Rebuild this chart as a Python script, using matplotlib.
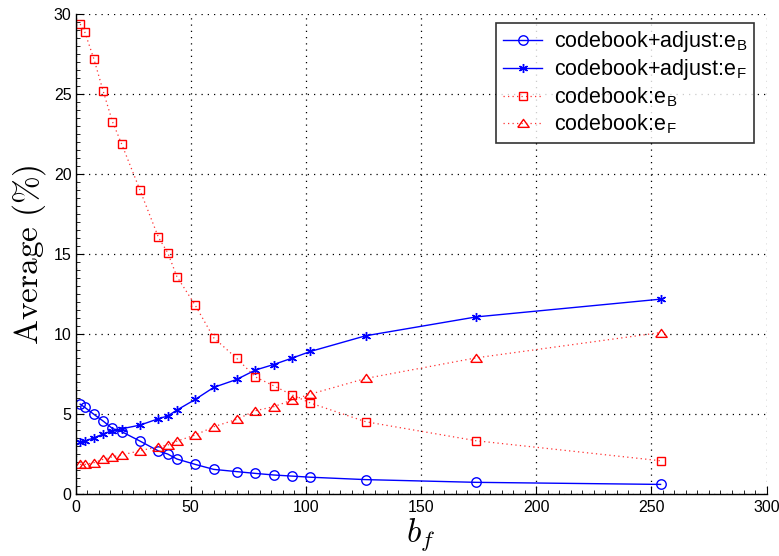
import matplotlib
matplotlib.use("Agg")
import matplotlib.pyplot as plt
from matplotlib.ticker import MultipleLocator

plt.rcParams['font.family'] = ['Liberation Sans', 'DejaVu Sans']
plt.rcParams['mathtext.fontset'] = 'cm'

bf = [2, 4, 8, 12, 16, 20, 28, 36, 40, 44, 52, 60, 70, 78, 86, 94, 102, 126, 174, 254]

adj_eB = [5.62, 5.42, 4.98, 4.56, 4.10, 3.90, 3.31, 2.69, 2.50, 2.19, 1.85, 1.54, 1.40,
          1.29, 1.19, 1.12, 1.05, 0.90, 0.73, 0.60]
adj_eF = [3.27, 3.30, 3.52, 3.75, 3.96, 4.08, 4.31, 4.71, 4.88, 5.25, 5.92, 6.67, 7.17,
          7.75, 8.10, 8.50, 8.92, 9.90, 11.08, 12.19]
cb_eB = [29.4, 28.9, 27.2, 25.2, 23.3, 21.9, 19.0, 16.05, 15.1, 13.6, 11.8, 9.77, 8.48,
         7.33, 6.77, 6.20, 5.69, 4.52, 3.33, 2.08]
cb_eF = [1.85, 1.85, 1.96, 2.17, 2.33, 2.44, 2.71, 2.96, 3.06, 3.31, 3.69, 4.21, 4.67,
         5.21, 5.46, 5.88, 6.25, 7.23, 8.52, 10.1]

labels = [r'codebook+adjust:e$_\mathregular{B}$', r'codebook+adjust:e$_\mathregular{F}$',
          r'codebook:e$_\mathregular{B}$', r'codebook:e$_\mathregular{F}$']

tri = [(-1, -0.68), (1, -0.68), (0, 0.72), (-1, -0.68)]
dot = (0, (1, 2.6))

fig = plt.figure(figsize=(7.79, 5.56), dpi=100)
ax = fig.add_axes([0.097, 0.1115, 0.887, 0.8625])

ax.plot(bf, adj_eB, color='#0000ff', lw=1.0, marker='o', ms=6.8, mfc='none', mec='#0000ff', mew=1.0, label=labels[0])
ax.plot(bf, adj_eF, color='#0000ff', lw=1.0, marker=(6, 2, 0), ms=6.5, mec='#0000ff', mew=1.0, label=labels[1])
ax.plot(bf, cb_eB, color='#ff3030', lw=0.9, ls=dot, marker='s', ms=5.8, mfc='none', mec='#ff0000', mew=1.0, label=labels[2])
ax.plot(bf, cb_eF, color='#ff3030', lw=0.9, ls=dot, marker=tri, ms=8.2, mfc='none', mec='#ff0000', mew=1.0, label=labels[3])

ax.set_xlim(0, 300)
ax.set_ylim(0, 30)
ax.xaxis.set_major_locator(MultipleLocator(50))
ax.xaxis.set_minor_locator(MultipleLocator(5))
ax.yaxis.set_major_locator(MultipleLocator(5))
ax.yaxis.set_minor_locator(MultipleLocator(0.5))
ax.tick_params(which='both', direction='in', labelsize=11.5, colors='black')
ax.tick_params(which='major', length=6)
ax.tick_params(which='minor', length=3)
ax.tick_params(axis='x', pad=4)
ax.tick_params(axis='y', pad=3)

for s in ['top', 'right']:
    ax.spines[s].set_visible(False)
for s in ['left', 'bottom']:
    ax.spines[s].set_linewidth(1.0)

ax.grid(True, which='major', ls=(0, (1, 4)), color='black', lw=0.9)

ax.set_xlabel(r'$b_f$', fontsize=24, labelpad=1)
ax.set_ylabel(r'$\mathrm{Average\ (\%)}$', fontsize=24, labelpad=4)

leg = ax.legend(loc='upper right', bbox_to_anchor=(0.982, 0.983), fontsize=15.5, frameon=True, fancybox=False,
                edgecolor='black', handlelength=1.85, handletextpad=0.55, borderpad=0.3, labelspacing=0.15,
                borderaxespad=0.0)
leg.get_frame().set_linewidth(1.2)

fig.savefig('out.png', dpi=100)
